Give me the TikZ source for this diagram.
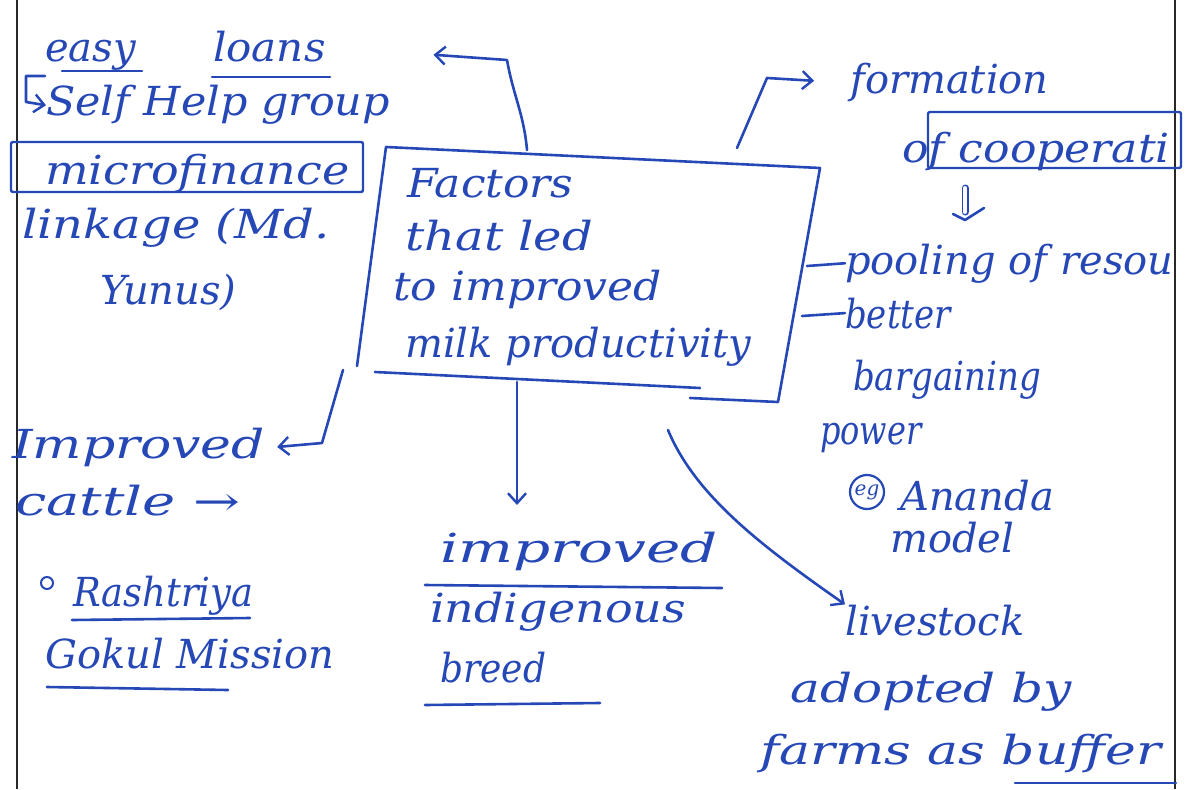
\documentclass[tikz,border=0pt]{standalone}
\usepackage{fontspec}
\usepackage{graphicx}
\setmainfont{DejaVu Serif}
\usetikzlibrary{arrows.meta}
\definecolor{pen}{RGB}{38,72,182}
\definecolor{rule}{RGB}{40,40,40}
% horizontal stretch of one written line
\newcommand{\hx}[2]{\scalebox{#1}[1]{#2}}
\tikzset{
  hand/.style={text=pen, font=\fontsize{40}{44}\selectfont\itshape, inner sep=0pt, anchor=base west},
  ink/.style={draw=pen, line width=2.6pt, line cap=round, line join=round},
  frame/.style={draw=pen, line width=2.4pt, rounded corners=2pt},
  tip/.style={-{Straight Barb[length=10pt,width=18pt,line width=2.4pt]}},
  margin/.style={draw=rule, line width=2pt}
}
\begin{document}
\begin{tikzpicture}[x=1pt,y=-1pt]
\useasboundingbox (0,0) rectangle (1190,789);
\fill[white] (0,0) rectangle (1190,789);

% page margins
\draw[margin] (17,0) -- (17,789);
\draw[margin] (1175,0) -- (1175,789);

% central topic
\node[hand] (f1) at (407,197) {\hx{1.1}{Factors}};
\node[hand] (f2) at (405,250) {\hx{1.2}{that led}};
\node[hand] (f3) at (393,300) {\hx{1.1}{to improved}};
\node[hand] (f4) at (405,357) {milk productivity};
\coordinate (bxTL) at (386,147);
\coordinate (bxTR) at (820,168);
\coordinate (bxBR) at (778,402);
\coordinate (bxBL) at (357,366);
\draw[ink] (bxBL) -- (bxTL) -- (bxTR) -- (bxBR) -- (690,398);
\draw[ink] (375,372) -- (700,388);

% left: credit
\node[hand] (easy) at (45,62) {easy};
\node[hand] (loans) at (213,62) {\hx{1.05}{loans}};
\draw[ink] (62,71) -- (142,71);
\draw[ink] (212,77) -- (330,77);
\node[hand] (shg) at (46,116) {\hx{1.07}{Self Help group}};
\node[hand] (mf) at (45,184) {\hx{1.15}{microfinance}};
\draw[frame] (11,142) rectangle (363,192);
\node[hand] (lk) at (22,238) {\hx{1.2}{linkage (Md.}};
\node[hand] (yn) at (100,304) {Yunus)};
\draw[ink, tip] (45,76) -- (26,76) -- (26,102) -- (shg.west);
\draw[ink, tip, shorten >=108pt] (527,150) to[out=95,in=-80] (507,60) -- (loans.east);

% right: cooperatives
\node[hand] (form) at (850,94) {formation};
\node[hand] (coop) at (902,162) {\hx{1.1}{of cooperati}};
\draw[frame] (928,112) rectangle (1181,168);
\draw[ink, tip, shorten >=36pt] (737,148) -- (767,78) -- (form.west);
\node[hand] (pool) at (845,274) {pooling of resou};
\draw[ink, double=white, double distance=4pt, line width=1.5pt] (965,188) -- (965,212);
\draw[ink] (953,214) -- (965,220) -- (984,208);
\node[hand] (bet) at (845,328) {\hx{0.85}{better}};
\node[hand] (barg) at (853,390) {\hx{0.85}{bargaining}};
\node[hand] (pow) at (820,444) {\hx{0.8}{power}};
\node[hand] (ana) at (900,510) {Ananda};
\node[draw=pen, line width=2.2pt, circle, minimum size=34pt, inner sep=0pt, text=pen, font=\fontsize{20}{20}\selectfont\itshape] (eg) at (867,492) {eg};
\node[hand] (mod) at (890,552) {model};
\draw[ink] (807,266) -- (pool.west);
\draw[ink] (802,316) -- (bet.west);

% lower right: livestock
\node[hand] (live) at (845,635) {livestock};
\node[hand] (adop) at (790,702) {\hx{1.25}{adopted by}};
\node[hand] (farm) at (760,764) {\hx{1.3}{farms as buffer}};
\draw[ink] (1015,783) -- (1176,783);
\draw[ink, tip] (668,430) .. controls (695,495) and (760,545) .. (live.north west);

% bottom: breed
\node[hand] (imp) at (440,562) {\hx{1.45}{improved}};
\node[hand] (ind) at (430,622) {\hx{1.15}{indigenous}};
\node[hand] (br) at (440,682) {\hx{0.9}{breed}};
\draw[ink] (425,585) -- (722,588);
\draw[ink] (425,705) -- (600,703);
\draw[ink, tip] (517,382) -- (517,505);

% lower left: cattle
\node[hand] (ic) at (12,458) {\hx{1.3}{Improved}};
\node[hand] (ct) at (15,515) {\hx{1.4}{cattle →}};
\node[hand] (ra) at (73,606) {\hx{0.92}{Rashtriya}};
\node[hand] (gm) at (45,668) {Gokul Mission};
\draw[pen, line width=2pt] (47,583) circle (6);
\draw[ink] (72,620) -- (250,618);
\draw[ink] (47,687) -- (228,690);
\draw[ink, tip] (343,370) -- (322,443) -- ([xshift=12pt]ic.east);
\end{tikzpicture}
\end{document}
